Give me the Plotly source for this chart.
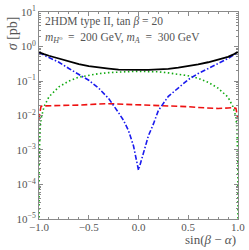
import plotly.graph_objects as go

sin_ba = [-1, -0.9999, -0.999, -0.99, -0.98, -0.95, -0.9, -0.8, -0.7, -0.6, -0.5, -0.4,
          -0.3, -0.2, -0.15, -0.1, -0.05, 0, 0.05, 0.1, 0.15, 0.2, 0.3, 0.4, 0.5, 0.6,
          0.7, 0.8, 0.9, 0.95, 0.98, 0.99, 0.999, 0.9999, 1]

sigma_total = [0.68, 0.68, 0.68, 0.67, 0.65, 0.6, 0.54, 0.45, 0.36, 0.31, 0.27, 0.245,
               0.23, 0.215, 0.212, 0.21, 0.21, 0.21, 0.21, 0.21, 0.212, 0.215, 0.225, 0.245, 0.27, 0.305,
               0.35, 0.41, 0.5, 0.58, 0.64, 0.67, 0.69, 0.7, 0.7]

sigma_blue = [0.66, 0.66, 0.66, 0.65, 0.63, 0.56, 0.48, 0.35, 0.23, 0.155, 0.105, 0.062,
              0.031, 0.012, 0.0072, 0.0036, 0.0013, 0.00026, 0.0009, 0.0026, 0.0057, 0.014, 0.036, 0.065, 0.11, 0.165,
              0.235, 0.32, 0.45, 0.55, 0.62, 0.65, 0.68, 0.68, 0.68]

sigma_green = [1e-6, 4e-5, 4e-4, 0.004, 0.008, 0.018, 0.035, 0.068, 0.1, 0.13, 0.148, 0.163,
               0.175, 0.184, 0.187, 0.19, 0.19, 0.19, 0.19, 0.19, 0.188, 0.185, 0.172, 0.16, 0.142, 0.12,
               0.092, 0.062, 0.034, 0.018, 0.009, 0.004, 4e-4, 4e-5, 1e-6]

sigma_red = [0.0075, 0.0078, 0.009, 0.013, 0.0185, 0.019, 0.019, 0.0195, 0.0198, 0.02, 0.021, 0.0215,
             0.022, 0.0215, 0.021, 0.021, 0.0205, 0.0205, 0.02, 0.02, 0.02, 0.0198, 0.019, 0.0185, 0.018, 0.017,
             0.0165, 0.016, 0.0165, 0.017, 0.016, 0.012, 0.009, 0.008, 0.0078]

x_tickvals = [-1.0, -0.5, 0.0, 0.5, 1.0]
x_ticktext = ["\u22121.0", "\u22120.5", "0.0", "0.5", "1.0"]
y_tickvals = [1e1, 1e0, 1e-1, 1e-2, 1e-3, 1e-4, 1e-5]
y_ticktext = ["10<sup>1</sup>", "10<sup>0</sup>", "10<sup>\u22121</sup>", "10<sup>\u22122</sup>",
              "10<sup>\u22123</sup>", "10<sup>\u22124</sup>", "10<sup>\u22125</sup>"]

FONT = "Liberation Serif, DejaVu Serif, serif"
TXT = "#555555"
AX = "#8a8a8a"

fig = go.Figure()
fig.add_trace(go.Scatter(x=sin_ba, y=sigma_green, mode="lines",
                         line=dict(color="#11aa11", width=1.6, dash="1.5px,2.5px")))
fig.add_trace(go.Scatter(x=sin_ba, y=sigma_red, mode="lines",
                         line=dict(color="#ee1111", width=1.6, dash="6px,3px")))
fig.add_trace(go.Scatter(x=sin_ba, y=sigma_blue, mode="lines",
                         line=dict(color="#1a1aee", width=1.6, dash="5px,2px,1.5px,2px")))
fig.add_trace(go.Scatter(x=sin_ba, y=sigma_total, mode="lines",
                         line=dict(color="black", width=1.8)))

fig.update_layout(
    width=249, height=250,
    margin=dict(l=39, r=11, t=4, b=31),
    paper_bgcolor="white", plot_bgcolor="white",
    showlegend=False,
    hovermode=False,
    font=dict(family=FONT, size=11, color=TXT),
    xaxis=dict(range=[-1.0005, 1.0005], tickvals=x_tickvals, ticktext=x_ticktext,
               ticks="inside", ticklen=4, tickcolor=AX, showline=True, linecolor=AX,
               linewidth=1, mirror="allticks", showgrid=False, zeroline=False,
               ticklabeloverflow="allow", ticklabelstandoff=-2,
               minor=dict(dtick=0.1, tick0=0, ticks="inside", ticklen=2, tickcolor=AX, showgrid=False),
               tickfont=dict(family=FONT, size=11, color=TXT)),
    yaxis=dict(type="log", range=[-5.001, 1.001], tickvals=y_tickvals, ticktext=y_ticktext,
               ticks="inside", ticklen=4, tickcolor=AX, showline=True, linecolor=AX,
               linewidth=1, mirror="allticks", showgrid=False, zeroline=False,
               ticklabeloverflow="allow",
               minor=dict(dtick="D1", ticks="inside", ticklen=2, tickcolor=AX, showgrid=False),
               tickfont=dict(family=FONT, size=11, color=TXT)),
)

fig.add_annotation(xref="paper", yref="paper", x=0.02, y=0.955, xanchor="left", yanchor="middle",
                   text="2HDM type II, tan <i>\u03b2</i> = 20", showarrow=False,
                   font=dict(family=FONT, size=11.5, color=TXT))
fig.add_annotation(xref="paper", yref="paper", x=0.02, y=0.875, xanchor="left", yanchor="middle",
                   text="<i>m</i><sub><i>H</i>\u2070</sub>\u2002=\u2002200 GeV, <i>m<sub>A</sub></i>\u2002=\u2002300 GeV",
                   showarrow=False, font=dict(family=FONT, size=11.5, color=TXT))
fig.add_annotation(xref="paper", yref="paper", x=-0.135, y=0.99, xanchor="center", yanchor="top",
                   text="<i>\u03c3</i> [pb]", textangle=-90, showarrow=False,
                   font=dict(family=FONT, size=14, color=TXT))
fig.add_annotation(xref="paper", yref="paper", x=1.0, y=-0.098, xanchor="right", yanchor="middle",
                   text="sin(<i>\u03b2</i> \u2212 <i>\u03b1</i>)", showarrow=False,
                   font=dict(family=FONT, size=13, color=TXT))

fig.write_html("out.html", config={"displayModeBar": False, "staticPlot": True},
               post_script="document.body.style.margin='0';document.body.style.overflow='hidden';")
